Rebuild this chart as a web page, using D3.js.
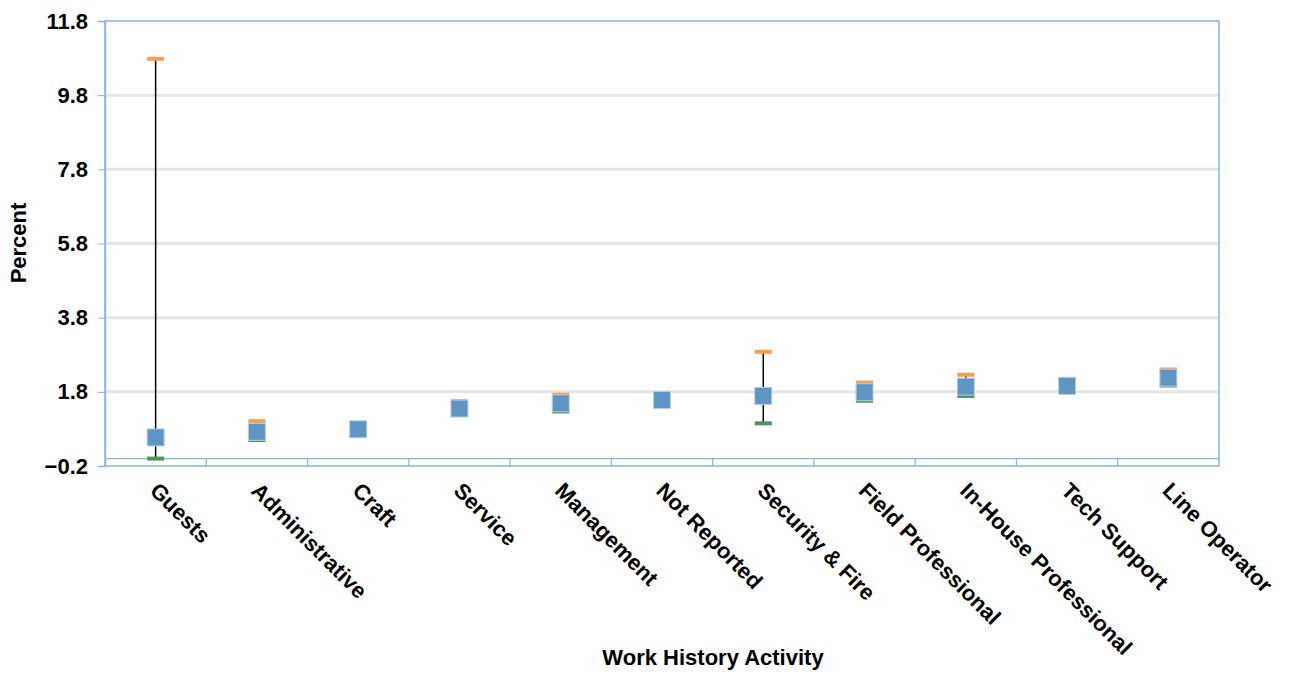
<!DOCTYPE html>
<html>
<head>
<meta charset="utf-8">
<script src="https://cdn.jsdelivr.net/npm/d3@7"></script>
<style>
  body { margin: 0; background: #fff; }
  text { font-family: "Liberation Sans", Arial, sans-serif; font-weight: bold; fill: #000; }
</style>
</head>
<body>
<svg width="1291" height="675"></svg>
<script>
// categories along the x axis
const categories = ["Guests", "Administrative", "Craft", "Service", "Management", "Not Reported",
    "Security & Fire", "Field Professional", "In-House Professional", "Tech Support", "Line Operator"];

// estimate, upper and lower values (percent)
const estimate = [0.57, 0.72, 0.79, 1.35, 1.49, 1.58, 1.69, 1.79, 1.94, 1.96, 2.18];
const upper = [10.78, 1.01, 0.84, 1.55, 1.72, 1.76, 2.88, 2.05, 2.26, 2.15, 2.40];
const lower = [0.0, 0.5, 0.74, 1.18, 1.27, 1.42, 0.95, 1.56, 1.69, 1.79, 1.97];

const yTicks = [-0.2, 1.8, 3.8, 5.8, 7.8, 9.8, 11.8];

const svg = d3.select("svg");
const plotLeft = 105, plotRight = 1219, plotTop = 21, plotBottom = 466;
const fontSize = "22px";

const x = d3.scaleBand().domain(categories).range([plotLeft, plotRight]);
const y = d3.scaleLinear().domain([-0.2, 11.8]).range([plotBottom, plotTop]);

// gridlines
svg.append("g")
    .selectAll("line")
    .data(yTicks.slice(1, -1))
    .join("line")
    .attr("x1", plotLeft).attr("x2", plotRight)
    .attr("y1", d => y(d)).attr("y2", d => y(d))
    .attr("stroke", "#e6e6e6")
    .attr("stroke-width", 3);

// plot frame
svg.append("rect")
    .attr("x", plotLeft).attr("y", plotTop)
    .attr("width", plotRight - plotLeft).attr("height", plotBottom - plotTop)
    .attr("fill", "none")
    .attr("stroke", "#8eb3d8")
    .attr("stroke-width", 1.5);

// y axis ticks and labels
const yAxis = d3.axisLeft(y).tickValues(yTicks).tickSize(7).tickPadding(10)
    .tickFormat(d3.format(".1f"));
svg.append("g")
    .attr("transform", `translate(${plotLeft},0)`)
    .call(yAxis)
    .call(g => g.select(".domain").attr("stroke", "#8eb3d8").attr("stroke-width", 1.5))
    .call(g => g.selectAll(".tick line").attr("stroke", "#8eb3d8"))
    .call(g => g.selectAll(".tick text")
        .style("font-size", fontSize).style("font-weight", "bold")
        .style("font-family", "Liberation Sans, Arial, sans-serif")
        .attr("fill", "#000"));

// category axis crossing at zero
const zeroY = y(0);
svg.append("line")
    .attr("x1", plotLeft).attr("x2", plotRight)
    .attr("y1", zeroY).attr("y2", zeroY)
    .attr("stroke", "#8eb3d8").attr("stroke-width", 1.2);
svg.append("g")
    .selectAll("line")
    .data(categories.slice(1))
    .join("line")
    .attr("x1", d => x(d)).attr("x2", d => x(d))
    .attr("y1", zeroY).attr("y2", plotBottom)
    .attr("stroke", "#8eb3d8").attr("stroke-width", 1.2);

// x labels, rotated
svg.append("g")
    .selectAll("text")
    .data(categories)
    .join("text")
    .attr("transform", d => `translate(${x(d) + x.bandwidth() / 2 - 7},${492}) rotate(45)`)
    .style("font-size", fontSize)
    .text(d => d);

// error bar lines
const cx = d => x(d) + x.bandwidth() / 2;
svg.append("g")
    .selectAll("line")
    .data(categories)
    .join("line")
    .attr("x1", cx).attr("x2", cx)
    .attr("y1", (d, i) => y(upper[i])).attr("y2", (d, i) => y(lower[i]))
    .attr("stroke", "#000").attr("stroke-width", 1.5);

// upper and lower dash markers
svg.append("g")
    .selectAll("rect")
    .data(categories)
    .join("rect")
    .attr("x", d => cx(d) - 8.5).attr("y", (d, i) => y(upper[i]) - 2)
    .attr("width", 17).attr("height", 4)
    .attr("fill", "#f8a049");
svg.append("g")
    .selectAll("rect")
    .data(categories)
    .join("rect")
    .attr("x", d => cx(d) - 8.5).attr("y", (d, i) => y(lower[i]) - 2)
    .attr("width", 17).attr("height", 4)
    .attr("fill", "#4e9355");

// estimate squares
svg.append("g")
    .selectAll("rect")
    .data(categories)
    .join("rect")
    .attr("x", d => cx(d) - 8.5).attr("y", (d, i) => y(estimate[i]) - 8.5)
    .attr("width", 17).attr("height", 17)
    .attr("fill", "#5f95c2")
    .attr("stroke", "#b7cfe5").attr("stroke-width", 1);

// axis titles
svg.append("text")
    .attr("x", 713).attr("y", 665)
    .attr("text-anchor", "middle")
    .style("font-size", fontSize)
    .text("Work History Activity");
svg.append("text")
    .attr("transform", `translate(26,243) rotate(-90)`)
    .attr("text-anchor", "middle")
    .style("font-size", fontSize)
    .text("Percent");
</script>
</body>
</html>
